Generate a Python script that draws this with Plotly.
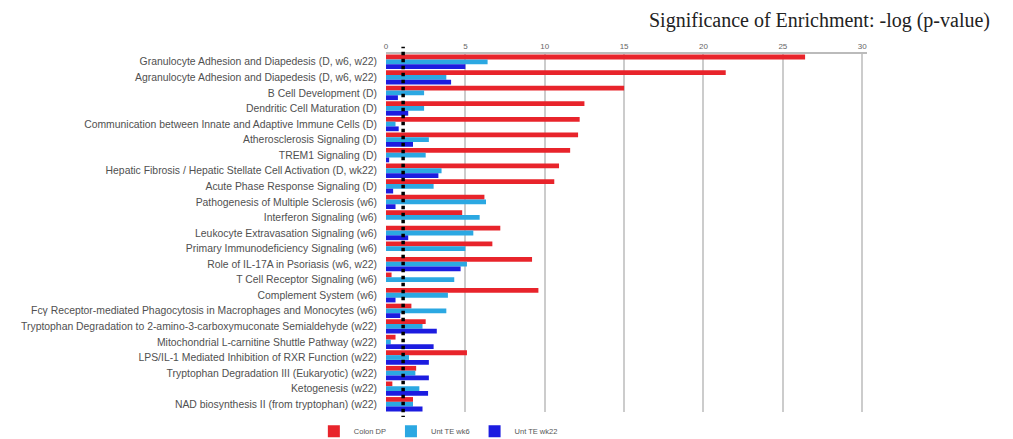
import plotly.graph_objects as go

categories = [
    "Granulocyte Adhesion and Diapedesis (D, w6, w22)",
    "Agranulocyte Adhesion and Diapedesis (D, w6, w22)",
    "B Cell Development (D)",
    "Dendritic Cell Maturation (D)",
    "Communication between Innate and Adaptive Immune Cells (D)",
    "Atherosclerosis Signaling (D)",
    "TREM1 Signaling (D)",
    "Hepatic Fibrosis / Hepatic Stellate Cell Activation (D, wk22)",
    "Acute Phase Response Signaling (D)",
    "Pathogenesis of Multiple Sclerosis (w6)",
    "Interferon Signaling (w6)",
    "Leukocyte Extravasation Signaling (w6)",
    "Primary Immunodeficiency Signaling (w6)",
    "Role of IL-17A in Psoriasis (w6, w22)",
    "T Cell Receptor Signaling (w6)",
    "Complement System (w6)",
    "Fcγ Receptor-mediated Phagocytosis in Macrophages and Monocytes (w6)",
    "Tryptophan Degradation to 2-amino-3-carboxymuconate Semialdehyde (w22)",
    "Mitochondrial L-carnitine Shuttle Pathway (w22)",
    "LPS/IL-1 Mediated Inhibition of RXR Function (w22)",
    "Tryptophan Degradation III (Eukaryotic) (w22)",
    "Ketogenesis (w22)",
    "NAD biosynthesis II (from tryptophan) (w22)",
]

colon_dp = [26.4, 21.4, 15.0, 12.5, 12.2, 12.1, 11.6, 10.9, 10.6, 6.2, 4.8, 7.2, 6.7,
            9.2, 0.35, 9.6, 1.6, 2.5, 0.6, 5.1, 1.9, 0.4, 1.7]
unt_wk6 = [6.4, 3.8, 2.4, 2.4, 0.6, 2.7, 2.5, 3.5, 3.0, 6.3, 5.9, 5.5, 5.0,
           5.1, 4.3, 3.9, 3.8, 2.3, 0.3, 1.45, 1.85, 2.1, 1.7]
unt_wk22 = [5.0, 4.1, 0.75, 1.4, 0.8, 1.7, 0.2, 3.3, 0.45, 0.6, 0.0, 1.4, 0.0,
            4.7, 0.0, 0.6, 0.9, 3.2, 3.0, 2.7, 2.7, 2.65, 2.3]

series_names = ["Colon DP", "Unt TE wk6", "Unt TE wk22"]
series_colors = ["#e8242b", "#2ba8e2", "#1c1ce0"]
threshold = 1.08
x_ticks = [0, 5, 10, 15, 20, 25, 30]

fig = go.Figure()
for name, vals, col in zip(series_names, [colon_dp, unt_wk6, unt_wk22], series_colors):
    fig.add_trace(go.Bar(y=categories, x=vals, name=name, orientation="h",
                         marker=dict(color=col, line=dict(width=0))))

fig.add_shape(type="line", xref="x", yref="paper", x0=threshold, x1=threshold,
              y0=-0.04, y1=1.02, line=dict(color="black", width=3.5, dash="dot"))

fig.add_annotation(text="Significance of Enrichment: -log (p-value)", xref="paper", yref="paper",
                   x=0.543, y=1.0, xanchor="left", yanchor="bottom", yshift=20, showarrow=False,
                   font=dict(family="Liberation Serif", size=20, color="#222222"))

fig.update_layout(
    width=1005, height=431,
    margin=dict(l=378, r=146, t=46, b=27, autoexpand=False),
    paper_bgcolor="white", plot_bgcolor="white",
    barmode="group", bargap=0.08, bargroupgap=0,
    font=dict(family="Liberation Sans", color="#555555"),
    showlegend=True,
    legend=dict(orientation="h", x=-0.15, xanchor="left", y=-0.054, yanchor="middle",
                font=dict(size=7.5, color="#555555"), itemwidth=30, traceorder="normal"),
    xaxis=dict(side="top", range=[0, 30.3], tickvals=x_ticks, showgrid=True,
               gridcolor="#cccccc", gridwidth=1.5, zeroline=False, showline=True,
               linecolor="#bbbbbb", linewidth=1.5, ticks="",
               tickfont=dict(size=8, color="#666666")),
    yaxis=dict(autorange="reversed", showgrid=False, ticks="",
               tickfont=dict(size=10.4, color="#505050"), ticklabelstandoff=8),
)

fig.write_html("out.html")
